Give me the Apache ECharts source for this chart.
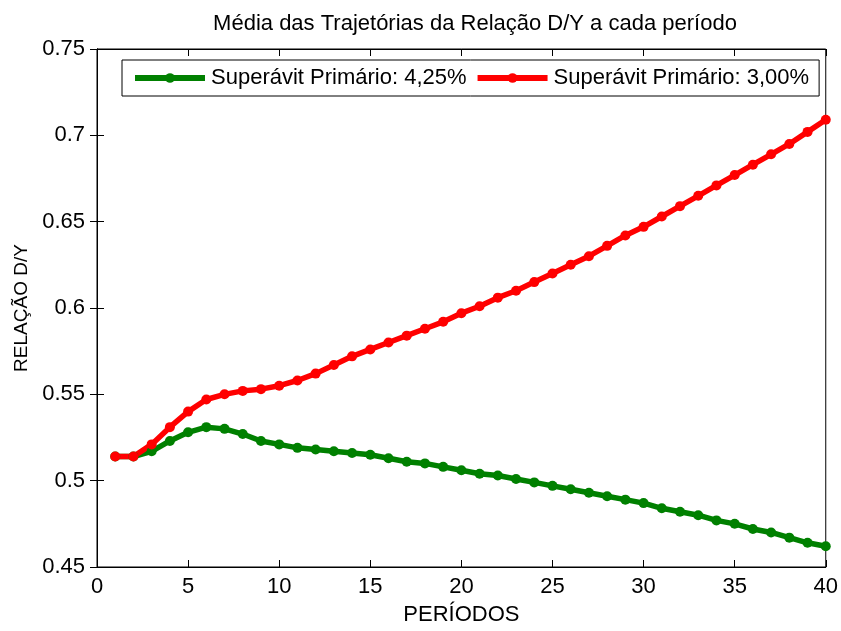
<!DOCTYPE html>
<html>
<head>
<meta charset="utf-8">
<script src="https://cdn.jsdelivr.net/npm/echarts@6/dist/echarts.min.js"></script>
<style>
  html, body { margin: 0; padding: 0; background: #fff; }
  #chart { width: 841px; height: 631px; }
</style>
</head>
<body>
<div id="chart"></div>
<script>
// Período (1..40)
const periodos = [1,2,3,4,5,6,7,8,9,10,11,12,13,14,15,16,17,18,19,20,
                  21,22,23,24,25,26,27,28,29,30,31,32,33,34,35,36,37,38,39,40];

// Média da relação D/Y com superávit primário de 4,25%
const dy425 = [0.514,0.514,0.517,0.523,0.528,0.531,0.530,0.527,0.523,0.521,
               0.519,0.518,0.517,0.516,0.515,0.513,0.511,0.510,0.508,0.506,
               0.504,0.503,0.501,0.499,0.497,0.495,0.493,0.491,0.489,0.487,
               0.484,0.482,0.480,0.477,0.475,0.472,0.470,0.467,0.464,0.462];

// Média da relação D/Y com superávit primário de 3,00%
const dy300 = [0.514,0.514,0.521,0.531,0.540,0.547,0.550,0.552,0.553,0.555,
               0.558,0.562,0.567,0.572,0.576,0.580,0.584,0.588,0.592,0.597,
               0.601,0.606,0.610,0.615,0.620,0.625,0.630,0.636,0.642,0.647,
               0.653,0.659,0.665,0.671,0.677,0.683,0.689,0.695,0.702,0.709];

const xTicks = { min: 0, max: 40, interval: 5 };
const yTicks = { min: 0.45, max: 0.75, interval: 0.05 };

const nomes = ['Superávit Primário: 4,25%', 'Superávit Primário: 3,00%'];
const cores = ['#008000', '#ff0000'];

const fonte = 'Liberation Sans, Arial, sans-serif';
const tamanho = 22;
const chart = echarts.init(document.getElementById('chart'), null, { renderer: 'canvas' });

const tickStyle = { show: true, inside: true, length: 7, lineStyle: { color: '#000', width: 1 } };
const lineAxis = { show: true, lineStyle: { color: '#000', width: 1 } };

const pares = (ys) => periodos.map((p, i) => [p, ys[i]]);

chart.setOption({
  backgroundColor: '#fff',
  animation: false,
  title: {
    text: 'Média das Trajetórias da Relação D/Y a cada período',
    left: 470, textAlign: 'center', top: 8,
    textStyle: { fontFamily: fonte, fontSize: tamanho, fontWeight: 'normal', color: '#000' }
  },
  legend: {
    data: nomes,
    left: 122, top: 60,
    orient: 'horizontal',
    itemWidth: 70, itemHeight: 12, itemGap: 8,
    padding: [7, 10, 7, 10],
    backgroundColor: '#fff',
    borderColor: '#000', borderWidth: 1, borderRadius: 0,
    lineStyle: { width: 6 },
    textStyle: { fontFamily: fonte, fontSize: tamanho, color: '#000', padding: [0, 0, 0, 1] }
  },
  grid: { left: 97, right: 11, top: 49, bottom: 52, show: true, borderColor: '#000', borderWidth: 1 },
  xAxis: [
    {
      type: 'value', position: 'bottom', ...xTicks,
      name: 'PERÍODOS', nameLocation: 'middle', nameGap: 37,
      nameTextStyle: { fontFamily: fonte, fontSize: tamanho, color: '#000' },
      axisLine: lineAxis, axisTick: tickStyle,
      axisLabel: { fontFamily: fonte, fontSize: tamanho, color: '#000', margin: 9 },
      splitLine: { show: false }
    },
    {
      type: 'value', position: 'top', ...xTicks,
      axisLine: lineAxis, axisTick: tickStyle, axisLabel: { show: false }, splitLine: { show: false }
    }
  ],
  yAxis: [
    {
      type: 'value', position: 'left', ...yTicks,
      name: 'RELAÇÃO D/Y', nameLocation: 'middle', nameGap: 63,
      nameTextStyle: { fontFamily: fonte, fontSize: 19, color: '#000' },
      axisLine: lineAxis, axisTick: tickStyle,
      axisLabel: { fontFamily: fonte, fontSize: tamanho, color: '#000', margin: 12 },
      splitLine: { show: false }
    },
    {
      type: 'value', position: 'right', ...yTicks,
      axisLine: lineAxis, axisTick: tickStyle, axisLabel: { show: false }, splitLine: { show: false }
    }
  ],
  series: [
    {
      name: nomes[0], type: 'line', data: pares(dy425),
      xAxisIndex: 0, yAxisIndex: 0,
      symbol: 'circle', symbolSize: 10, showSymbol: true,
      lineStyle: { color: cores[0], width: 5.5 },
      itemStyle: { color: cores[0] }
    },
    {
      name: nomes[1], type: 'line', data: pares(dy300),
      xAxisIndex: 0, yAxisIndex: 0,
      symbol: 'circle', symbolSize: 10, showSymbol: true,
      lineStyle: { color: cores[1], width: 5.5 },
      itemStyle: { color: cores[1] }
    }
  ]
});
</script>
</body>
</html>
